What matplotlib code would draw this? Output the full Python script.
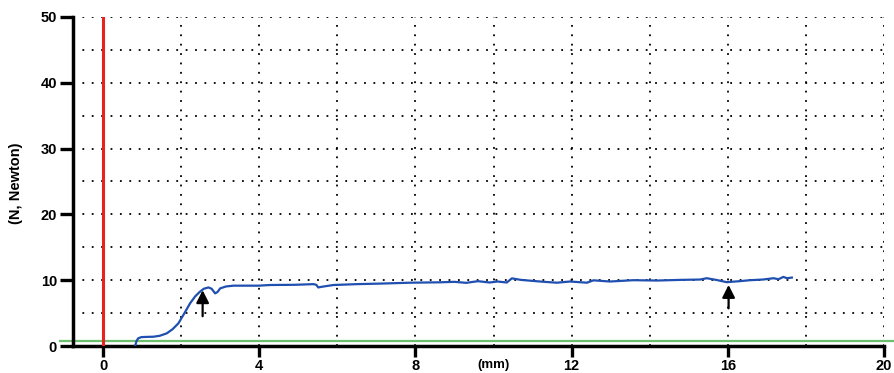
import matplotlib
matplotlib.use("Agg")
import matplotlib.pyplot as plt

plt.rcParams['font.family'] = ['Liberation Sans', 'DejaVu Sans']

# Displacement (mm) and force (N)
disp = [0.82, 0.86, 0.90, 0.98, 1.10, 1.29, 1.45, 1.63, 1.78, 1.93, 2.08, 2.23, 2.36, 2.48,
        2.58, 2.70, 2.78, 2.87, 2.93, 3.00, 3.15, 3.34, 3.98, 4.28, 4.90, 5.39, 5.46, 5.51,
        5.60, 5.90, 6.50, 7.20, 7.86, 8.63, 9.00, 9.30, 9.60, 9.90, 10.10, 10.34, 10.47,
        10.70, 10.93, 11.30, 11.62, 11.96, 12.20, 12.39, 12.56, 12.98, 13.58, 14.20,
        14.80, 15.29, 15.46, 15.70, 15.97, 16.30, 16.57, 16.90, 17.17, 17.30, 17.42,
        17.52, 17.64]
force = [0.0, 0.8, 1.17, 1.35, 1.38, 1.41, 1.55, 1.92, 2.55, 3.45, 4.95, 6.50, 7.55, 8.25,
         8.70, 8.90, 8.70, 8.00, 8.20, 8.76, 9.05, 9.17, 9.17, 9.27, 9.30, 9.40, 9.30, 8.90,
         9.00, 9.27, 9.40, 9.50, 9.62, 9.68, 9.75, 9.60, 9.85, 9.65, 9.80, 9.65, 10.28,
         10.05, 9.93, 9.75, 9.62, 9.80, 9.70, 9.62, 9.98, 9.80, 10.00, 9.95,
         10.05, 10.10, 10.30, 10.05, 9.70, 9.85, 10.00, 10.10, 10.30, 10.15, 10.50,
         10.30, 10.40]

xticks = [0, 4, 8, 12, 16, 20]
yticks = [0, 10, 20, 30, 40, 50]
arrow_x = [2.55, 16.02]
arrow_tail = [4.1, 5.3]
arrow_tip = [8.9, 9.7]
baseline_y = 0.7

fig = plt.figure(figsize=(8.95, 3.73), dpi=100)
ax = fig.add_axes([73/895, 1-346/373, (884-73)/895, (346-17)/373])
ax.set_xlim(-0.77, 20)
ax.set_ylim(0, 50)

# dotted grid
for gx in range(2, 21, 2):
    ax.plot([gx, gx], [0, 50], color='black', lw=1.3, ls=(0, (1, 4.2)), zorder=1)
for gy in range(5, 51, 5):
    ax.plot([-0.77, 20], [gy, gy], color='black', lw=1.3, ls=(0, (1, 4.2)), zorder=1)

ax.plot([-1.1, 20.3], [baseline_y, baseline_y], color='#6cbf6c', lw=1.6, zorder=2, clip_on=False)
ax.plot([0, 0], [0, 50], color='#e8231f', lw=2.2, zorder=3)
ax.plot(disp, force, color='#1f4fb0', lw=1.6, zorder=4)

for ax_, t0, t1 in zip(arrow_x, arrow_tail, arrow_tip):
    ax.annotate('', xy=(ax_, t1), xytext=(ax_, t0),
                arrowprops=dict(arrowstyle='-|>,head_length=0.75,head_width=0.38', color='black', lw=1.6),
                zorder=5)

for s in ['top', 'right']:
    ax.spines[s].set_visible(False)
for s in ['left', 'bottom']:
    ax.spines[s].set_linewidth(2.5)
ax.set_xticks(xticks)
ax.set_yticks(yticks)
ax.set_xticklabels([str(v) for v in xticks], fontsize=10.5, fontweight='bold')
ax.set_yticklabels([str(v) for v in yticks], fontsize=10.5, fontweight='bold')
ax.tick_params(axis='y', length=9.5, width=2.4, pad=2)
ax.tick_params(axis='x', length=8, width=2.4, pad=1)
ax.text(10, -2.0, '(mm)', ha='center', va='top', fontsize=9.5, fontweight='bold',
        transform=ax.transData)
fig.text(16/895, 1-183/373, '(N, Newton)', rotation=90, ha='center', va='center',
         fontsize=10.5, fontweight='bold')

fig.savefig('out.png', dpi=100)
